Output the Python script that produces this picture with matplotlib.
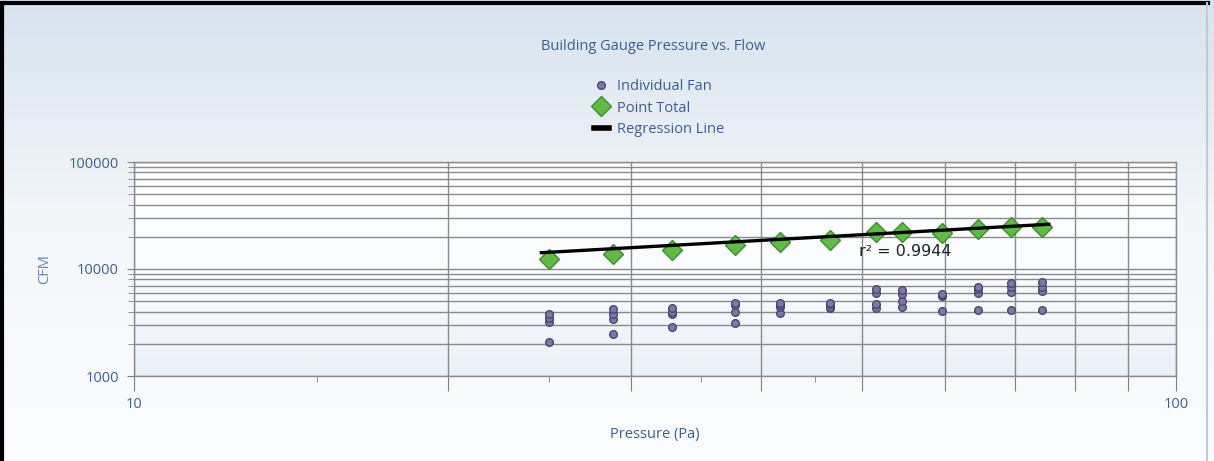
import numpy as np
import matplotlib.pyplot as plt
from matplotlib.lines import Line2D
from matplotlib.colors import LinearSegmentedColormap

# pressure (Pa) at each test point
pressure = [25.0, 28.8, 32.8, 37.7, 41.7, 46.6, 51.5, 54.6, 59.6, 64.6, 69.4, 74.3]
# total flow for each point (CFM)
total_cfm = [12300, 13700, 15050, 16750, 17750, 18650, 22000, 22000, 21850, 23500, 24550, 24550]
# individual fans (4 per point)
fan_a = [3800, 4200, 4290, 4850, 4840, 4780, 6460, 6430, 5800, 6830, 7450, 7560]
fan_b = [3480, 3800, 4000, 4560, 4600, 4660, 5930, 5900, 5710, 6500, 6740, 6780]
fan_c = [3200, 3390, 3800, 3990, 4390, 4420, 4710, 5020, 5600, 5930, 6140, 6220]
fan_d = [2080, 2470, 2890, 3150, 3910, 4290, 4290, 4370, 4080, 4140, 4140, 4140]
# regression line ends
reg_x = [24.6, 75.5]
reg_y = [14200, 26200]
r2_text = "r\u00b2 = 0.9944"

txt_blue = '#3b5f8c'
W, H = 1214, 461
fig = plt.figure(figsize=(W / 100, H / 100), dpi=100)
plt.rcParams['font.family'] = ['Open Sans', 'DejaVu Sans']

# background gradient for the whole figure
bg = fig.add_axes([0, 0, 1, 1], zorder=-10)
cm_bg = LinearSegmentedColormap.from_list('bg', ['#fbfcfd', '#f4f7fa', '#d8e3ee'])
bg.imshow(np.linspace(0, 1, 256).reshape(-1, 1), aspect='auto', cmap=cm_bg,
          origin='lower', extent=[0, 1, 0, 1])
bg.set_xlim(0, 1)
bg.set_ylim(0, 1)
bg.axis('off')
# border of the picture
bg.plot([0.002, 0.002, 0.995], [0.99, 0.994, 0.994], color='black', lw=3, transform=bg.transAxes)
bg.plot([0.002, 0.002], [0.0, 0.994], color='black', lw=3, transform=bg.transAxes)
bg.plot([0.994, 0.994], [0.0, 0.994], color='#c8c8c8', lw=1.5, transform=bg.transAxes)

left, right, top, bottom = 134 / W, 1176 / W, 1 - 162 / H, 1 - 376 / H
ax = fig.add_axes([left, bottom, right - left, top - bottom])
ax.set_xscale('log')
ax.set_yscale('log')
ax.set_xlim(10, 100)
ax.set_ylim(1000, 100000)
ax.set_facecolor('none')

# plot area gradient
cm_pa = LinearSegmentedColormap.from_list('pa', ['#ebf1f9', '#fafcfe', '#ffffff'])
ax.imshow(np.linspace(0, 1, 256).reshape(-1, 1), aspect='auto', cmap=cm_pa, origin='lower',
          extent=[0, 1, 0, 1], transform=ax.transAxes, zorder=0)

xmaj = [10, 20, 30, 40, 50, 60, 70, 80, 90, 100]
ax.set_xticks(xmaj)
ax.set_xticklabels(['10', '', '', '', '', '', '', '', '', '100'])
ax.set_xticks([15, 25, 35, 45], minor=True)
ax.xaxis.set_minor_formatter(plt.NullFormatter())
ax.tick_params(axis='x', which='major', length=11, color='#808080', pad=4, labelsize=10.5, labelcolor=txt_blue)
ax.tick_params(axis='x', which='minor', length=4, color='#808080')
ax.set_yticks([1000, 10000, 100000])
ax.set_yticklabels(['1000', '10000', '100000'])
ax.yaxis.set_minor_formatter(plt.NullFormatter())
ax.tick_params(axis='y', which='major', length=5, color='#808080', pad=6, labelsize=10.5, labelcolor=txt_blue)
ax.tick_params(axis='y', which='minor', length=4, color='#808080')
ax.grid(True, axis='x', which='major', color='#8a8a8a', lw=1)
ax.grid(True, axis='y', which='both', color='#8a8a8a', lw=1)
ax.set_axisbelow(True)
for s in ax.spines.values():
    s.set_color('#8a8a8a')
    s.set_linewidth(1)

fan_kw = dict(ls='none', marker='o', ms=5.5, mfc='#7b79aa', mec='#4e4470', mew=1, zorder=3)
for fan in [fan_d, fan_c, fan_b, fan_a]:
    ax.plot(pressure, fan, **fan_kw)
ax.plot(pressure, total_cfm, ls='none', marker='D', ms=10, mfc='#5fbb44', mec='#3e8c2c', mew=1, zorder=4)
ax.plot(reg_x, reg_y, color='black', lw=2.4, zorder=5)
ax.text(49.6, 14500, r2_text, fontsize=11.5, color='#222222', ha='left', va='center',
        family=['DejaVu Sans'], zorder=6)

ax.set_xlabel('Pressure (Pa)', fontsize=10.5, color=txt_blue, labelpad=11)
ax.set_ylabel('CFM', fontsize=10.5, color='#5b86b5', labelpad=12)

fig.text(653 / W, 1 - 47 / H, 'Building Gauge Pressure vs. Flow', ha='center', va='center',
         fontsize=10.5, color=txt_blue)

handles = [
    Line2D([], [], ls='none', marker='o', ms=5.5, mfc='#7b79aa', mec='#4e4470'),
    Line2D([], [], ls='none', marker='D', ms=10, mfc='#5fbb44', mec='#3e8c2c'),
    Line2D([], [], color='black', lw=4),
]
fig.legend(handles, ['Individual Fan', 'Point Total', 'Regression Line'],
           loc='upper left', bbox_to_anchor=(594 / W, 1 - 79 / H), frameon=False,
           fontsize=10.5, labelcolor=txt_blue, handlelength=1.0, handletextpad=0.6,
           labelspacing=0.45, borderpad=0, borderaxespad=0)

fig.savefig('out.png', dpi=100)
